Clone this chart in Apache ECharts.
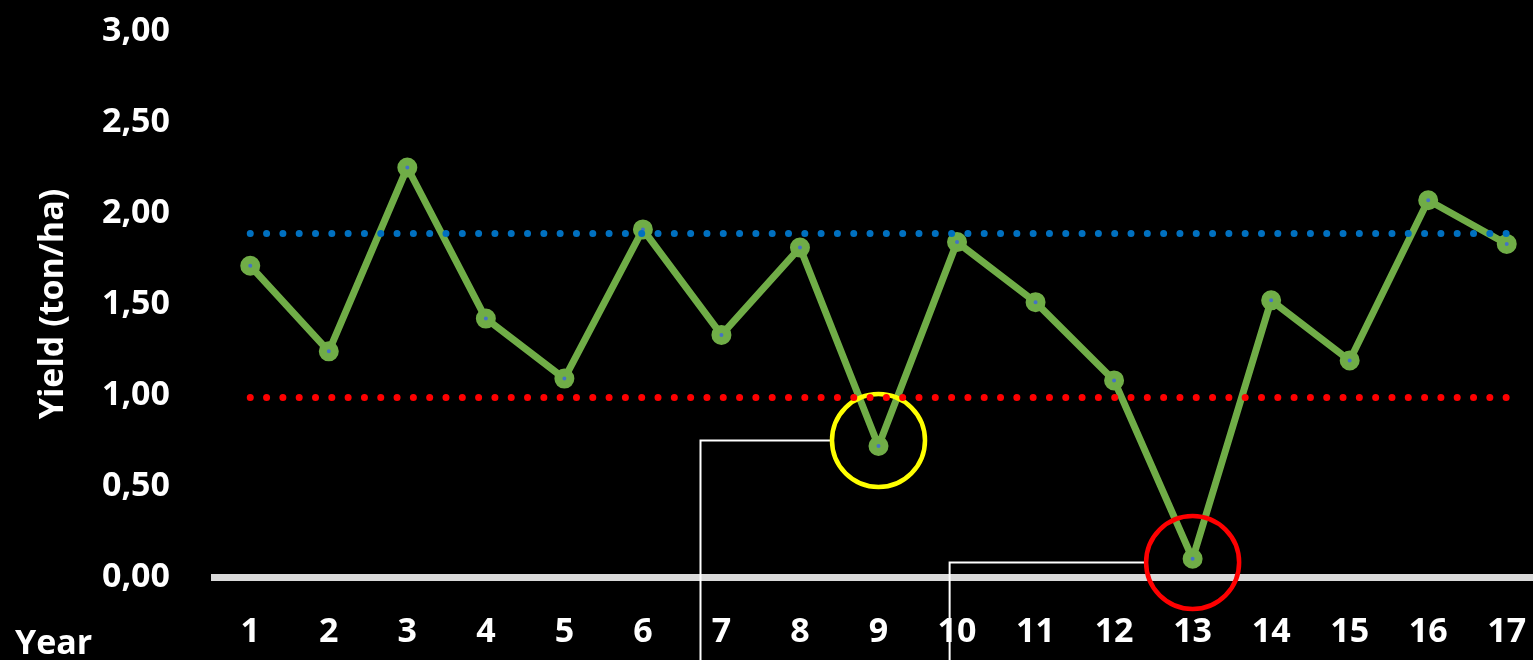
<!DOCTYPE html>
<html>
<head>
<meta charset="utf-8">
<script src="https://cdn.jsdelivr.net/npm/echarts@6/dist/echarts.min.js"></script>
<style>
html,body{margin:0;padding:0;background:#000;overflow:hidden;width:1533px;height:660px;}
#chart{width:1550px;height:660px;}
</style>
</head>
<body>
<div id="chart"></div>
<script>
// ---- data ----
const years = ['1','2','3','4','5','6','7','8','9','10','11','12','13','14','15','16','17'];
const yieldValues = [1.71,1.24,2.25,1.42,1.09,1.91,1.33,1.81,0.72,1.84,1.51,1.08,0.10,1.52,1.19,2.07,1.83];
const upperRef = 1.89;
const lowerRef = 0.99;
const yTicks = ['0,00','0,50','1,00','1,50','2,00','2,50','3,00'];
const highlightYellow = ['9', 0.75];
const highlightRed = ['13', 0.08];

const FONT = '"Open Sans"';
const chart = echarts.init(document.getElementById('chart'));

function refLine(val, color){
  return {
    silent: true,
    symbol: ['none','none'],
    label: {show:false},
    lineStyle: {color: color, width: 7, type: [0.01, 16.3], cap: 'round', opacity: 1},
    data: [[{xAxis: years[0], yAxis: val},{xAxis: years[years.length-1], yAxis: val}]]
  };
}

chart.setOption({
  backgroundColor: '#000000',
  animation: false,
  grid: {left: 211, right: 4, top: 31, bottom: 83, containLabel: false},
  xAxis: {
    type: 'category',
    data: years,
    boundaryGap: true,
    axisLine: {show: true, onZero: true, lineStyle: {color: '#D9D9D9', width: 7, cap: 'butt'}},
    axisTick: {show: false},
    axisLabel: {color: '#fff', fontFamily: FONT, fontWeight: 'bold', fontSize: 34, margin: 38},
    splitLine: {show: false}
  },
  yAxis: {
    type: 'value',
    min: 0, max: 3, interval: 0.5,
    name: 'Yield (ton/ha)',
    nameLocation: 'middle',
    nameGap: 141,
    nameRotate: 90,
    nameTextStyle: {color: '#fff', fontFamily: FONT, fontWeight: 'bold', fontSize: 34},
    axisLine: {show: false},
    axisTick: {show: false},
    splitLine: {show: false},
    axisLabel: {
      color: '#fff', fontFamily: FONT, fontWeight: 'bold', fontSize: 34, margin: 41,
      formatter: function(v){ return yTicks[Math.round(v/0.5)]; }
    }
  },
  series: [
    {
      type: 'line',
      data: yieldValues,
      z: 2,
      lineStyle: {color: '#70AD47', width: 7},
      symbol: 'circle',
      symbolSize: 12,
      itemStyle: {color: '#4472C4', borderColor: '#70AD47', borderWidth: 8},
      markLine: refLine(upperRef, '#0070C0')
    },
    {
      type: 'line',
      data: [],
      z: 3,
      markLine: refLine(lowerRef, '#FF0000')
    },
    {
      type: 'scatter',
      z: 4,
      silent: true,
      data: [highlightYellow],
      symbol: 'circle',
      symbolSize: 93,
      itemStyle: {color: 'rgba(0,0,0,0)', borderColor: '#FFFF00', borderWidth: 4.5, opacity: 1}
    },
    {
      type: 'scatter',
      z: 4,
      silent: true,
      data: [highlightRed],
      symbol: 'circle',
      symbolSize: 93,
      itemStyle: {color: 'rgba(0,0,0,0)', borderColor: '#FF0000', borderWidth: 4.5, opacity: 1}
    }
  ]
});

// callout connector lines, anchored to highlight circles
const py = chart.convertToPixel({gridIndex: 0}, highlightYellow);
const pr = chart.convertToPixel({gridIndex: 0}, highlightRed);
const R = 48;
chart.setOption({
  graphic: [
    {type: 'polyline', z: 1, shape: {points: [[py[0]-R, py[1]], [py[0]-178, py[1]], [py[0]-178, 680]]},
     style: {stroke: '#fff', lineWidth: 2, fill: null}},
    {type: 'polyline', z: 1, shape: {points: [[pr[0]-R, pr[1]], [pr[0]-243, pr[1]], [pr[0]-243, 680]]},
     style: {stroke: '#fff', lineWidth: 2, fill: null}},
    {type: 'text', left: 15, top: 627, style: {text: 'Year', fill: '#fff', font: 'bold 34px ' + FONT}}
  ]
});
</script>
</body>
</html>
